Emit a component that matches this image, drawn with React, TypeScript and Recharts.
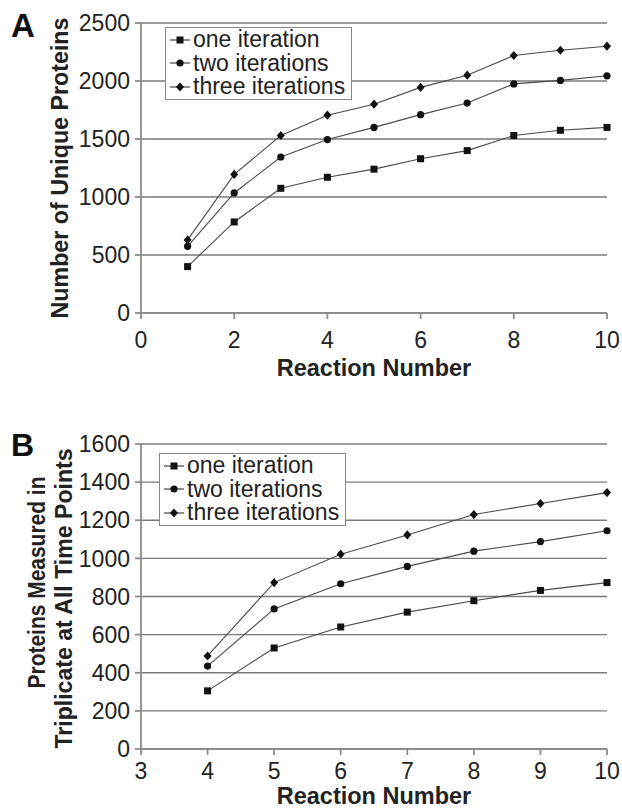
import { LineChart, Line, XAxis, YAxis, CartesianGrid, Legend } from "recharts";

const FONT = '"Liberation Sans", Arial, sans-serif';

// panel A
const reactionsA = [1, 2, 3, 4, 5, 6, 7, 8, 9, 10];
const oneIterA = [400, 785, 1075, 1170, 1240, 1330, 1400, 1530, 1575, 1600];
const twoIterA = [575, 1035, 1345, 1495, 1600, 1710, 1810, 1975, 2005, 2045];
const threeIterA = [630, 1195, 1530, 1705, 1800, 1945, 2050, 2220, 2265, 2300];
const xTicksA = [0, 2, 4, 6, 8, 10];
const yTicksA = [0, 500, 1000, 1500, 2000, 2500];

// panel B
const reactionsB = [4, 5, 6, 7, 8, 9, 10];
const oneIterB = [305, 530, 640, 718, 778, 832, 873];
const twoIterB = [435, 735, 867, 958, 1038, 1088, 1145];
const threeIterB = [488, 873, 1022, 1123, 1230, 1288, 1345];
const xTicksB = [3, 4, 5, 6, 7, 8, 9, 10];
const yTicksB = [0, 200, 400, 600, 800, 1000, 1200, 1400, 1600];

const seriesNames = ["one iteration", "two iterations", "three iterations"];
const seriesKeys = ["one", "two", "three"];

const dataA = reactionsA.map((x, i) => ({
  x,
  one: oneIterA[i],
  two: twoIterA[i],
  three: threeIterA[i],
}));
const dataB = reactionsB.map((x, i) => ({
  x,
  one: oneIterB[i],
  two: twoIterB[i],
  three: threeIterB[i],
}));

function Marker({ cx, cy, kind }: { cx?: number; cy?: number; kind: number }) {
  if (cx == null || cy == null) return null;
  if (kind === 0)
    return <rect x={cx - 3.5} y={cy - 3.5} width={7} height={7} fill="#111" />;
  if (kind === 1) return <circle cx={cx} cy={cy} r={3.6} fill="#111" />;
  return (
    <path
      d={`M${cx},${cy - 4.6}L${cx + 4},${cy}L${cx},${cy + 4.6}L${cx - 4},${cy}Z`}
      fill="#111"
    />
  );
}

function LegendBox() {
  return (
    <div
      style={{
        border: "1px solid #888",
        background: "#fff",
        width: 185,
        fontFamily: FONT,
        fontSize: 23,
        color: "#222",
      }}
    >
      {seriesNames.map((n, i) => (
        <div
          key={n}
          style={{ display: "flex", alignItems: "center", height: 23.5, whiteSpace: "nowrap" }}
        >
          <svg width={20} height={12} style={{ marginLeft: 4, marginRight: 3 }}>
            <line x1={0} y1={6} x2={20} y2={6} stroke="#444" strokeWidth={1.2} />
            <Marker cx={10} cy={6} kind={i} />
          </svg>
          <span>{n}</span>
        </div>
      ))}
    </div>
  );
}

function yTitle(
  lines: { text: string; bx: number; dy: number; len: number; size: number }[]
) {
  return (props: any) => {
    const { x, y, height } = props.viewBox;
    return (
      <g>
        {lines.map((l) => (
          <text
            key={l.text}
            x={0}
            y={0}
            transform={`translate(${x + l.bx},${y + height / 2 + l.dy}) rotate(-90)`}
            textAnchor="middle"
            fontFamily={FONT}
            fontWeight="bold"
            fontSize={l.size}
            fill="#222"
            textLength={l.len}
            lengthAdjust="spacingAndGlyphs"
          >
            {l.text}
          </text>
        ))}
      </g>
    );
  };
}

function xTitle(dy: number) {
  return (props: any) => {
    const { x, y, width } = props.viewBox;
    return (
      <text
        x={x + width / 2}
        y={y + dy}
        textAnchor="middle"
        dominantBaseline="central"
        fontFamily={FONT}
        fontWeight="bold"
        fontSize={23.5}
        fill="#222"
      >
        Reaction Number
      </text>
    );
  };
}

function Panel({
  data,
  height,
  margin,
  xDomain,
  xTicks,
  yDomain,
  yTicks,
  xTickMargin,
  xLabelDy,
  yLabel,
  legendTop,
  legendLeft,
}: any) {
  const tick = { fontSize: 23, fill: "#222", fontFamily: FONT };
  const axisStroke = { stroke: "#8c8c8c", strokeWidth: 1.8 };
  return (
    <LineChart width={622} height={height} data={data} margin={margin}>
      <CartesianGrid horizontal vertical={false} stroke="#7a7a7a" strokeWidth={1.3} />
      <XAxis
        dataKey="x"
        type="number"
        domain={xDomain}
        ticks={xTicks}
        interval={0}
        height={60}
        tick={tick}
        tickSize={6}
        tickMargin={xTickMargin}
        axisLine={axisStroke}
        tickLine={axisStroke}
        label={xTitle(xLabelDy)}
      />
      <YAxis
        domain={yDomain}
        ticks={yTicks}
        interval={0}
        width={141}
        tick={tick}
        tickSize={6}
        tickMargin={5}
        axisLine={axisStroke}
        tickLine={axisStroke}
        label={yLabel}
      />
      <Legend
        layout="vertical"
        align="center"
        verticalAlign="middle"
        wrapperStyle={{ top: legendTop, left: legendLeft, width: "auto" }}
        content={() => <LegendBox />}
      />
      {seriesKeys.map((k, i) => (
        <Line
          key={k}
          dataKey={k}
          name={seriesNames[i]}
          type="linear"
          stroke="#4a4a4a"
          strokeWidth={1.1}
          isAnimationActive={false}
          dot={(p: any) => <Marker key={`${k}-${p.index}`} cx={p.cx} cy={p.cy} kind={i} />}
          activeDot={false}
        />
      ))}
    </LineChart>
  );
}

const panelLetter = (size: number): React.CSSProperties => ({
  position: "absolute",
  fontFamily: FONT,
  fontWeight: "bold",
  fontSize: size,
  lineHeight: 1,
  color: "#111",
});

export default function App() {
  return (
    <div
      style={{
        position: "absolute",
        left: 0,
        top: 0,
        width: 622,
        height: 809,
        background: "#fff",
        overflow: "hidden",
      }}
    >
      <div style={{ position: "absolute", left: 0, top: 0 }}>
        <Panel
          data={dataA}
          height={400}
          margin={{ top: 23, right: 15, bottom: 27, left: 0 }}
          xDomain={[0, 10]}
          xTicks={xTicksA}
          yDomain={[0, 2500]}
          yTicks={yTicksA}
          xTickMargin={13}
          xLabelDy={55}
          yLabel={yTitle([
            { text: "Number of Unique Proteins", bx: 68, dy: 0, len: 301, size: 24 },
          ])}
          legendTop={27}
          legendLeft={165}
        />
      </div>
      <div style={{ position: "absolute", left: 0, top: 400 }}>
        <Panel
          data={dataB}
          height={409}
          margin={{ top: 44, right: 15, bottom: 0, left: 0 }}
          xDomain={[3, 10]}
          xTicks={xTicksB}
          yDomain={[0, 1600]}
          yTicks={yTicksB}
          xTickMargin={8}
          xLabelDy={47}
          yLabel={yTitle([
            { text: "Proteins Measured in", bx: 45, dy: -14, len: 212, size: 23 },
            { text: "Triplicate at All Time Points", bx: 72, dy: 2, len: 300, size: 24 },
          ])}
          legendTop={53}
          legendLeft={159}
        />
      </div>
      <div style={{ ...panelLetter(33), left: 11, top: 9 }}>A</div>
      <div style={{ ...panelLetter(32), left: 11, top: 429 }}>B</div>
    </div>
  );
}
